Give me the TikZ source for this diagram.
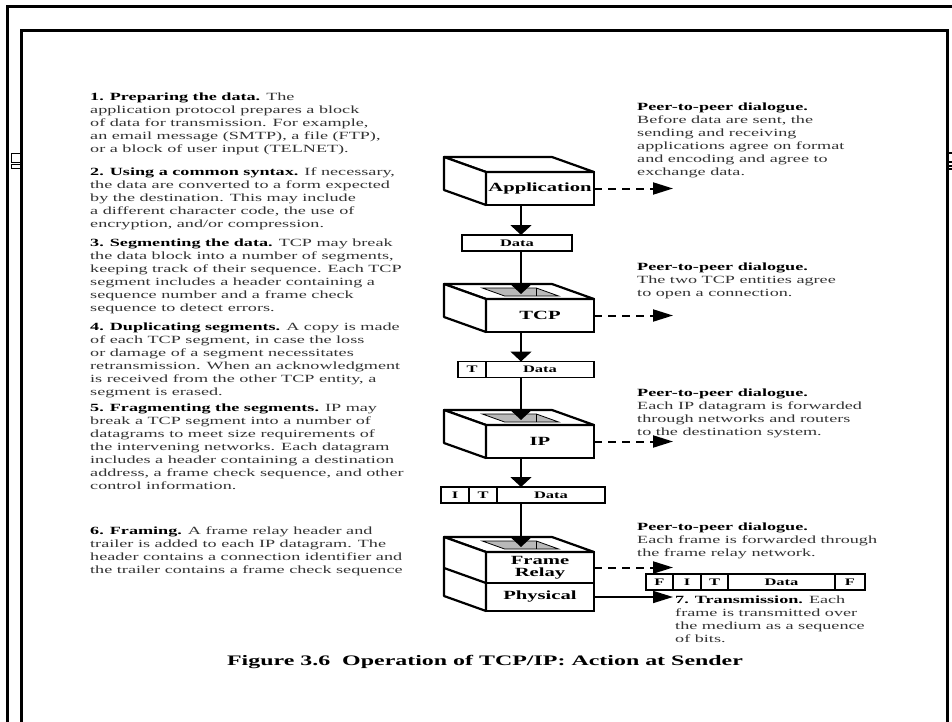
\documentclass[tikz,border=0pt]{standalone}
\usepackage{fontspec}
\setmainfont{Liberation Serif}[FakeStretch=1.65]
\usetikzlibrary{arrows.meta,calc}

\newcommand{\stepname}[1]{{\color{black}\bfseries #1}}

% top face and left face of a layer box (front face is the node)
\newcommand{\boxdepth}[2]{%
  \filldraw[fill=white, line width=2.2pt, line join=round]
    (#1.north west) -- ++(-42,-15) -- ++(108,0) -- (#1.north east) -- cycle;
  \filldraw[fill=white, line width=2.2pt, line join=round]
    (#1.north west) -- ++(-42,-15) -- ($(#2.south west)+(-42,-15)$) -- (#2.south west) -- cycle;
}
% opening in the top face
\newcommand{\boxhole}[1]{%
  \begin{scope}[shift={(#1.north)}]
    \filldraw[fill=gray!55, line width=0.8pt] (-35.4,-3) -- (18.6,-3) -- (-3.7,-11) -- (-57.7,-11) -- cycle;
    \draw[line width=0.8pt] (-3.7,-11) -- (-3.7,-3);
  \end{scope}
}

\tikzset{
  layer/.style={draw, line width=2.2pt, fill=white, outer sep=0pt, inner sep=0pt,
    minimum width=108pt, align=center, font=\fontsize{12.5}{12}\selectfont\bfseries},
  cell/.style={draw, line width=1.2pt, outer sep=0pt, inner sep=0pt, minimum height=16pt,
    font=\fontsize{10}{12}\selectfont\bfseries},
  note/.style={anchor=north west, inner sep=0pt, align=left, text=black!80,
    font=\fontsize{11}{13}\selectfont},
  down/.style={line width=2pt, -{Triangle[length=10pt,width=21pt]}},
  peer/.style={line width=2pt, dash pattern=on 8pt off 6pt, -{Triangle[length=20pt,width=12pt]}},
  wire/.style={line width=1.6pt, -{Triangle[length=20pt,width=12pt]}},
}

\begin{document}
\begin{tikzpicture}[x=1pt,y=-1pt]
  \useasboundingbox (0,0) rectangle (952,722);

  % --------------------------------------------------------- %
  % ------------- page frames
  % --------------------------------------------------------- %
  \draw[line width=3pt] (7,722) -- (7,7) -- (952,7);
  \draw[line width=3pt] (21,722) -- (21,31) -- (947,31) -- (947,722);
  \draw[line width=1pt] (11,154) rectangle (20,163);
  \draw[line width=1pt] (11,165) rectangle (20,169);
  \foreach \y in {153,162,166,169}
    \draw[line width=1.2pt] (947,\y) -- (952,\y);

  \coordinate (spine) at (521,0);
  \coordinate (rim) at (673,0);

  % --------------------------------------------------------- %
  % ------------- layer boxes
  % --------------------------------------------------------- %
  \node[layer, minimum height=33pt] (app) at (540,188.5) {Application};
  \boxdepth{app}{app}

  \node[layer, minimum height=33pt] (tcp) at (540,315.5) {TCP};
  \boxdepth{tcp}{tcp}
  \boxhole{tcp}

  \node[layer, minimum height=33pt] (ip) at (540,441.5) {IP};
  \boxdepth{ip}{ip}
  \boxhole{ip}

  \node[layer, minimum height=31pt] (frame) at (540,567.5) {Frame\\Relay};
  \node[layer, minimum height=28pt] (phys) at (540,597) {Physical};
  \boxdepth{frame}{phys}
  \draw[line width=2.2pt] (frame.south west) -- ++(-42,-15);
  \boxhole{frame}

  \coordinate (tcpin) at ($(tcp.north -| spine)+(0,-5)$);
  \coordinate (ipin) at ($(ip.north -| spine)+(0,-5)$);
  \coordinate (framein) at ($(frame.north -| spine)+(0,-5)$);

  % --------------------------------------------------------- %
  % ------------- data units
  % --------------------------------------------------------- %
  \node[cell, minimum width=110pt] (data) at (517,243) {Data};

  \node[cell, minimum width=28pt] (tcpT) at (472,369.5) {T};
  \node[cell, minimum width=108pt] (tcpData) at (540,369.5) {Data};

  \node[cell, minimum width=28pt] (ipI) at (455,495) {I};
  \node[cell, minimum width=28pt] (ipT) at (483,495) {T};
  \node[cell, minimum width=108pt] (ipData) at (551,495) {Data};

  \node[cell, minimum width=27pt] (frF) at (659.5,582) {F};
  \node[cell, minimum width=28pt] (frI) at (687,582) {I};
  \node[cell, minimum width=27pt] (frT) at (714.5,582) {T};
  \node[cell, minimum width=107pt] (frData) at (781.5,582) {Data};
  \node[cell, minimum width=30pt] (frFcs) at (850,582) {F};

  % --------------------------------------------------------- %
  % ------------- flow down the stack
  % --------------------------------------------------------- %
  \draw[down] (app.south -| spine) -- (data.north -| spine);
  \draw[down] (data.south -| spine) -- (tcpin);
  \draw[down] (tcp.south -| spine) -- (tcpData.north -| spine);
  \draw[down] (tcpData.south -| spine) -- (ipin);
  \draw[down] (ip.south -| spine) -- (ipData.north -| spine);
  \draw[down] (ipData.south -| spine) -- (framein);

  % --------------------------------------------------------- %
  % ------------- peer-to-peer arrows
  % --------------------------------------------------------- %
  \draw[peer] (app.east) -- (app.east -| rim);
  \draw[peer] (tcp.east) -- (tcp.east -| rim);
  \draw[peer] (ip.east) -- (ip.east -| rim);
  \draw[peer] (frame.east) -- (frame.east -| rim);
  \draw[wire] (phys.east) -- (phys.east -| rim);

  % --------------------------------------------------------- %
  % ------------- steps (left)
  % --------------------------------------------------------- %
  \node[note] (step1) at (90,93) {\stepname{1. Preparing the data.} The\\
    application protocol prepares a block\\
    of data for transmission. For example,\\
    an email message (SMTP), a file (FTP),\\
    or a block of user input (TELNET).};
  \node[note] (step2) at (90,168) {\stepname{2. Using a common syntax.} If necessary,\\
    the data are converted to a form expected\\
    by the destination. This may include\\
    a different character code, the use of\\
    encryption, and/or compression.};
  \node[note] (step3) at (90,239) {\stepname{3. Segmenting the data.} TCP may break\\
    the data block into a number of segments,\\
    keeping track of their sequence. Each TCP\\
    segment includes a header containing a\\
    sequence number and a frame check\\
    sequence to detect errors.};
  \node[note] (step4) at (90,323) {\stepname{4. Duplicating segments.} A copy is made\\
    of each TCP segment, in case the loss\\
    or damage of a segment necessitates\\
    retransmission. When an acknowledgment\\
    is received from the other TCP entity, a\\
    segment is erased.};
  \node[note] (step5) at (90,404) {\stepname{5. Fragmenting the segments.} IP may\\
    break a TCP segment into a number of\\
    datagrams to meet size requirements of\\
    the intervening networks. Each datagram\\
    includes a header containing a destination\\
    address, a frame check sequence, and other\\
    control information.};
  \node[note] (step6) at (90,527) {\stepname{6. Framing.} A frame relay header and\\
    trailer is added to each IP datagram. The\\
    header contains a connection identifier and\\
    the trailer contains a frame check sequence};

  % --------------------------------------------------------- %
  % ------------- dialogues (right)
  % --------------------------------------------------------- %
  \node[note] (peer1) at (637,103) {\stepname{Peer-to-peer dialogue.}\\
    Before data are sent, the\\
    sending and receiving\\
    applications agree on format\\
    and encoding and agree to\\
    exchange data.};
  \node[note] (peer2) at (637,263) {\stepname{Peer-to-peer dialogue.}\\
    The two TCP entities agree\\
    to open a connection.};
  \node[note] (peer3) at (637,389) {\stepname{Peer-to-peer dialogue.}\\
    Each IP datagram is forwarded\\
    through networks and routers\\
    to the destination system.};
  \node[note] (peer4) at (637,523) {\stepname{Peer-to-peer dialogue.}\\
    Each frame is forwarded through\\
    the frame relay network.};
  \node[note] (step7) at (675,596) {\stepname{7. Transmission.} Each\\
    frame is transmitted over\\
    the medium as a sequence\\
    of bits.};

  \node[font=\fontsize{14.5}{17}\selectfont\bfseries] (title) at (485,662)
    {Figure 3.6\ \ Operation of TCP/IP: Action at Sender};

\end{tikzpicture}
\end{document}
